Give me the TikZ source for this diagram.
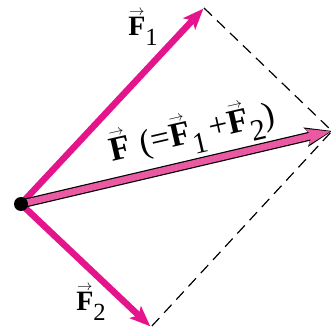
\documentclass[tikz,border=0pt]{standalone}
\usepackage{fontspec}
\usepackage{graphicx}
\setmainfont{Liberation Serif}
\usetikzlibrary{arrows.meta}
\definecolor{mag}{RGB}{228,20,140}
\definecolor{rpink}{RGB}{234,90,162}
\newcommand{\vecF}{{\ooalign{\textbf{F}\cr\hidewidth\raisebox{0.70em}{\scalebox{0.62}[0.6]{$\rightarrow$}}\hidewidth\cr}}}
\newcommand{\Fs}[1]{\vecF\raisebox{-0.36em}{\scalebox{0.88}{#1}}}
\tikzset{
  comp/.style={mag, line width=6.5pt, -{Stealth[length=21pt,width=17pt,inset=5pt,line width=0pt]}},
  resout/.style={black, line width=9pt, -{Stealth[length=27pt,width=20pt,inset=6pt,line width=0pt]}},
  resin/.style={rpink, line width=6.6pt, shorten >=1.8pt, -{Stealth[length=24pt,width=16.5pt,inset=5pt,line width=0pt]}},
  para/.style={black, line width=1.2pt, dash pattern=on 11pt off 7pt},
  lab/.style={inner sep=0pt, font=\fontsize{28}{28}\selectfont}
}
\begin{document}
\begin{tikzpicture}[x=1pt,y=-1pt]
\useasboundingbox (0,0) rectangle (331,331);
\coordinate (O) at (21,204);
\coordinate (A) at (204,8);
\coordinate (B) at (151,327);
\coordinate (R) at (332,131);
\draw[para] (A) -- (R) -- (B);
\draw[comp, shorten >=1pt] (O) -- (A);
\draw[comp, shorten >=1pt] (O) -- (B);
\draw[resout] (O) -- (R);
\draw[resin] (O) -- (R);
\node[circle, fill=black, inner sep=0pt, minimum size=14pt] (dot) at (O) {};
\node[lab] (l1) at (143,31) {\Fs{1}};
\node[lab] (l2) at (91,306) {\Fs{2}};
\node[lab, font=\fontsize{34}{34}\selectfont, rotate=13] (lr) at (193,137) {\vecF\hspace{0.3em}(=\Fs{1}\hspace{0.15em}+\Fs{2})};
\end{tikzpicture}
\end{document}
